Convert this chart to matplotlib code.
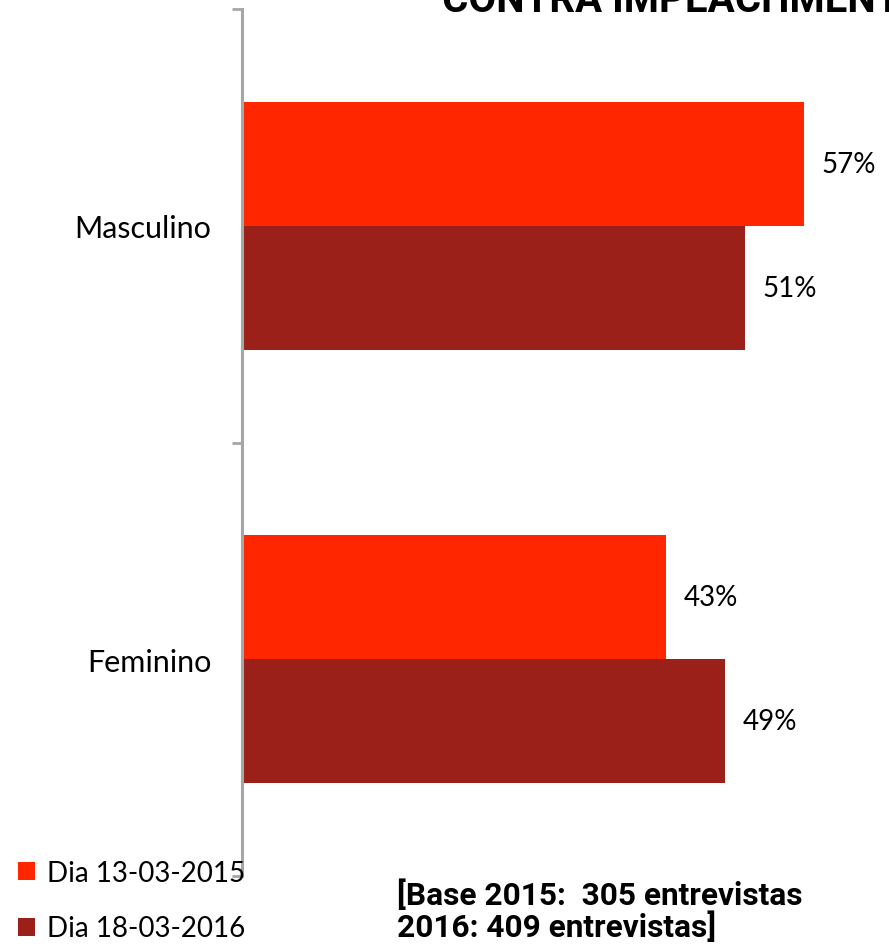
import matplotlib
matplotlib.use("Agg")
import matplotlib.pyplot as plt
from matplotlib.patches import Patch
import numpy as np

categories = ["Feminino", "Masculino"]
series_names = ["Dia 13-03-2015", "Dia 18-03-2016"]
values_2015 = [43, 57]
values_2016 = [49, 51]
value_labels_2015 = ["43%", "57%"]
value_labels_2016 = ["49%", "51%"]
title_text = "CONTRA IMPEACHMENT"
note_lines = ["[Base 2015:  305 entrevistas", "2016: 409 entrevistas]"]

color_2015 = "#FF2600"
color_2016 = "#9A2019"
axis_gray = "#A6A6A6"
label_font = ["Lato", "DejaVu Sans"]
bold_font = ["Roboto", "DejaVu Sans"]

W, H = 889, 945
fig = plt.figure(figsize=(W / 100, H / 100), dpi=100)
ax = fig.add_axes([242 / W, 1 - 877 / H, 641 / W, (877 - 10) / H])

centers = np.arange(len(categories)) + 0.5
bh = 0.286
ax.barh(centers + bh / 2, values_2015, height=bh, color=color_2015, label=series_names[0])
ax.barh(centers - bh / 2, values_2016, height=bh, color=color_2016, label=series_names[1])

for c, v, t in zip(centers, values_2015, value_labels_2015):
    ax.annotate(t, (v, c + bh / 2), xytext=(12.5, 0), textcoords="offset points",
                va="center", ha="left", fontsize=20, family=label_font, color="black")
for c, v, t in zip(centers, values_2016, value_labels_2016):
    ax.annotate(t, (v, c - bh / 2), xytext=(12.5, 0), textcoords="offset points",
                va="center", ha="left", fontsize=20, family=label_font, color="black")

ax.set_xlim(0, 65)
ax.set_ylim(0, len(categories))
ax.set_xticks([])
ax.set_yticks(np.arange(len(categories) + 1))
ax.set_yticklabels([])
ax.set_yticks(centers, minor=True)
ax.set_yticklabels(categories, minor=True, fontsize=22, family=label_font)
ax.tick_params(axis="y", which="major", length=7.2, width=2, color=axis_gray)
ax.tick_params(axis="y", which="minor", length=0, pad=22)
for s in ["top", "right", "bottom"]:
    ax.spines[s].set_visible(False)
ax.spines["left"].set_color(axis_gray)
ax.spines["left"].set_linewidth(2.2)
ax.patch.set_visible(False)

handles = [Patch(facecolor=color_2015, edgecolor="none"),
           Patch(facecolor=color_2016, edgecolor="none")]
fig.legend(handles, series_names, loc="upper left",
           bbox_to_anchor=(18 / W, 1 - 861 / H), frameon=False,
           prop={"family": label_font, "size": 20},
           handlelength=0.62, handleheight=0.62, handletextpad=0.42,
           labelspacing=1.06, borderpad=0, borderaxespad=0)

for line, base in zip(note_lines, [905, 937]):
    fig.text(397 / W, 1 - base / H, line, ha="left", va="baseline",
             fontsize=22.8, fontweight="bold", family=bold_font)

fig.text(442 / W, 1 - 12 / H, title_text, ha="left", va="baseline",
         fontsize=29, fontweight="bold", family=bold_font)

fig.savefig("out.png", dpi=100)
